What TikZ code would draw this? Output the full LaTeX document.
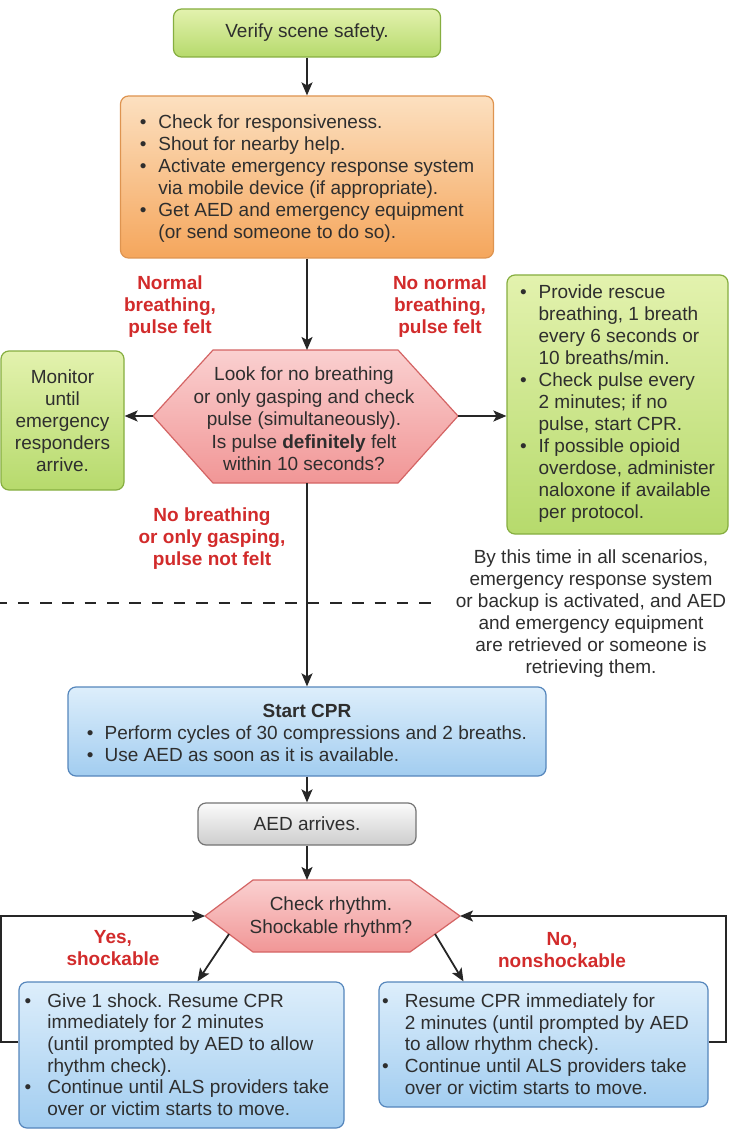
\documentclass[tikz,border=0pt]{standalone}
\usepackage{fontspec}
\setmainfont{Liberation Sans}
\usetikzlibrary{arrows.meta}
\definecolor{txt}{HTML}{2E2E2E}
\definecolor{lbl}{HTML}{D22B2B}
\definecolor{gtop}{HTML}{E3F2AE}
\definecolor{gbot}{HTML}{B6DA6C}
\definecolor{gbd}{HTML}{86AE40}
\definecolor{otop}{HTML}{FCE0C0}
\definecolor{obot}{HTML}{F5A65C}
\definecolor{obd}{HTML}{DE9450}
\definecolor{ptop}{HTML}{FAD0D0}
\definecolor{pbot}{HTML}{F19696}
\definecolor{pbd}{HTML}{D46464}
\definecolor{btop}{HTML}{DDEEFB}
\definecolor{bbot}{HTML}{A2CDF0}
\definecolor{bbd}{HTML}{5586BC}
\definecolor{wtop}{HTML}{FBFBFB}
\definecolor{wbot}{HTML}{CDCDCD}
\definecolor{wbd}{HTML}{747474}
\definecolor{arrc}{HTML}{262626}
\newcommand{\bxf}[1]{\fontsize{19}{#1}\selectfont}
\newcommand{\lowerby}[2]{\raisebox{0pt}[\dimexpr\height+#1\relax][\depth]{#2}}
\tikzset{
  box/.style={rounded corners=8pt, line width=1.2pt, inner sep=0pt, text=txt, font=\bxf{22}},
  greenbox/.style={box, draw=gbd, top color=gtop, bottom color=gbot},
  orangebox/.style={box, draw=obd, top color=otop, bottom color=obot},
  bluebox/.style={box, draw=bbd, top color=btop, bottom color=bbot},
  graybox/.style={box, draw=wbd, top color=wtop, bottom color=wbot},
  hexshape/.style={draw=pbd, line width=1.2pt, top color=ptop, bottom color=pbot, line join=round},
  lab/.style={text=lbl, font=\bfseries\bxf{22}, align=center, inner sep=0pt},
  note/.style={text=txt, font=\bxf{22}, align=center, inner sep=0pt},
  arr/.style={draw=arrc, line width=1.8pt, -{Stealth[length=13pt,width=11pt,inset=3pt]}},
}
\begin{document}
\frenchspacing
\begin{tikzpicture}[x=1pt,y=-1pt]
\useasboundingbox (0,0) rectangle (730,1131);
\fill[white] (0,0) rectangle (730,1131);

% dashed divider
\coordinate (dashL) at (0,603);
\coordinate (dashR) at (432,603);
\draw[draw=arrc, line width=2.4pt, dash pattern=on 11.5pt off 10.8pt, dash phase=4.5pt] (dashL) -- (dashR);

% boxes
\node[greenbox, minimum width=267pt, minimum height=48pt] (verify) at (307,33) {Verify scene safety.};

\node[orangebox, minimum width=373pt, minimum height=162pt] (check) at (307,177) {%
\lowerby{5pt}{\begin{tabular}{@{}l@{\hspace{12pt}}l@{}}
\textbullet & Check for responsiveness.\\
\textbullet & Shout for nearby help.\\
\textbullet & Activate emergency response system\\
 & via mobile device (if appropriate).\\
\textbullet & Get AED and emergency equipment\\
 & (or send someone to do so).
\end{tabular}}};

\node[greenbox, align=center, minimum width=123pt, minimum height=139pt] (monitor) at (62.5,420.5) {Monitor\\until\\emergency\\responders\\arrive.};

\node[greenbox, minimum width=221pt, minimum height=259pt] (rescue) at (617.5,404.5) {%
\begin{tabular}{@{}l@{\hspace{12pt}}l@{}}
\textbullet & Provide rescue\\
 & breathing, 1 breath\\
 & every 6 seconds or\\
 & 10 breaths/min.\\
\textbullet & Check pulse every\\
 & 2 minutes; if no\\
 & pulse, start CPR.\\
\textbullet & If possible opioid\\
 & overdose, administer\\
 & naloxone if available\\
 & per protocol.
\end{tabular}};

% hexagon 1
\coordinate (h1L) at (153,416);
\coordinate (h1TL) at (213,350);
\coordinate (h1TR) at (398,350);
\coordinate (h1R) at (458,416);
\coordinate (h1BR) at (398,483);
\coordinate (h1BL) at (213,483);
\coordinate (h1T) at (307,350);
\coordinate (h1B) at (307,483);
\path[hexshape] (h1L) -- (h1TL) -- (h1TR) -- (h1R) -- (h1BR) -- (h1BL) -- cycle;
\node[note, font=\bxf{22.5}] (q1) at (304,419) {Look for no breathing\\or only gasping and check\\pulse (simultaneously).\\Is pulse \textbf{definitely} felt\\within 10 seconds?};

% labels
\node[lab] (lnormal) at (170,307) {Normal\\breathing,\\pulse felt};
\node[lab] (lnonormal) at (440,307) {No normal\\breathing,\\pulse felt};
\node[lab] (lnobreath) at (212,538.5) {No breathing\\or only gasping,\\pulse not felt};
\node[note] (info) at (591,614) {By this time in all scenarios,\\emergency response system\\or backup is activated, and AED\\and emergency equipment\\are retrieved or someone is\\retrieving them.};

\node[bluebox, minimum width=478pt, minimum height=89pt] (cpr) at (307,731.5) {%
\lowerby{7pt}{\begin{tabular}{@{}l@{\hspace{11pt}}l@{}}
\multicolumn{2}{c}{\textbf{Start CPR}}\\
\textbullet & Perform cycles of 30 compressions and 2 breaths.\\
\textbullet & Use AED as soon as it is available.
\end{tabular}}};

\node[graybox, minimum width=218pt, minimum height=42pt] (aed) at (307,824) {AED arrives.};

% hexagon 2
\coordinate (h2L) at (205,916);
\coordinate (h2TL) at (253,880);
\coordinate (h2TR) at (410,880);
\coordinate (h2R) at (460,916);
\coordinate (h2BR) at (410,952);
\coordinate (h2BL) at (253,952);
\coordinate (h2T) at (307,880);
\coordinate (h2dl) at (229,934);
\coordinate (h2dr) at (435,934);
\path[hexshape] (h2L) -- (h2TL) -- (h2TR) -- (h2R) -- (h2BR) -- (h2BL) -- cycle;
\node[note, font=\bxf{23}] (q2) at (331,917) {Check rhythm.\\Shockable rhythm?};

\node[lab] (lyes) at (113,948) {Yes,\\shockable};
\node[lab] (lno) at (562,950) {No,\\nonshockable};

\node[bluebox, minimum width=325pt, minimum height=146pt, font=\bxf{21.6}] (shock) at (181.5,1055) {%
\hspace*{-9pt}\lowerby{4pt}{\begin{tabular}{@{}l@{\hspace{16pt}}l@{}}
\textbullet & Give 1 shock. Resume CPR\\
 & immediately for 2 minutes\\
 & (until prompted by AED to allow\\
 & rhythm check).\\
\textbullet & Continue until ALS providers take\\
 & over or victim starts to move.
\end{tabular}}};

\node[bluebox, minimum width=329pt, minimum height=125pt, font=\bxf{21.6}] (noshock) at (543.5,1044.5) {%
\hspace*{-16pt}\lowerby{4pt}{\begin{tabular}{@{}l@{\hspace{16pt}}l@{}}
\textbullet & Resume CPR immediately for\\
 & 2 minutes (until prompted by AED\\
 & to allow rhythm check).\\
\textbullet & Continue until ALS providers take\\
 & over or victim starts to move.
\end{tabular}}};

% connectors
\draw[arr] (verify.south) -- (check.north);
\draw[arr] (check.south) -- (h1T);
\draw[arr] (h1L) -- (h1L -| monitor.east);
\draw[arr] (h1R) -- (h1R -| rescue.west);
\draw[arr] (h1B) -- (cpr.north);
\draw[arr] (cpr.south) -- (aed.north);
\draw[arr] (aed.south) -- (h2T);
\draw[arr] (h2dl) -- ([xshift=16pt]shock.north);
\draw[arr] (h2dr) -- ([xshift=-80pt]noshock.north);
\draw[arr] ([yshift=13pt]shock.west) -- ++(-17.5,0) |- (h2L);
\draw[arr] ([yshift=2.5pt]noshock.east) -- ++(17,0) |- (h2R);
\end{tikzpicture}
\end{document}
